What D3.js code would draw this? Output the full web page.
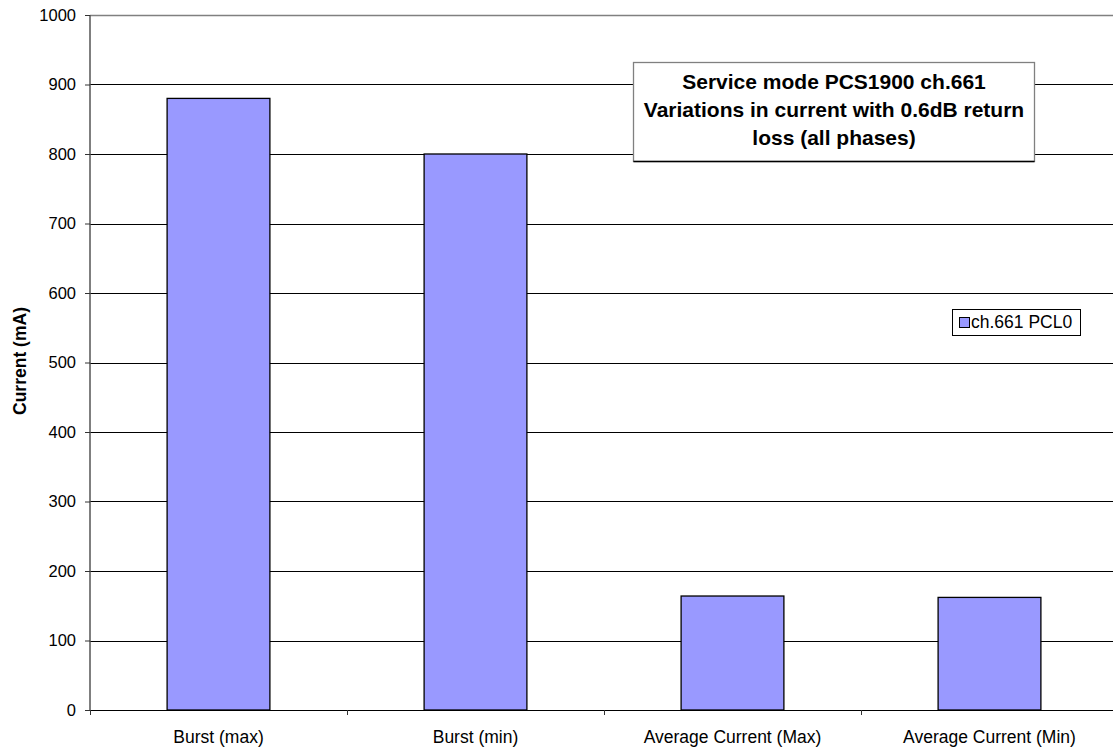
<!DOCTYPE html>
<html>
<head>
<meta charset="utf-8">
<script src="https://cdn.jsdelivr.net/npm/d3@7"></script>
<style>
  body { margin: 0; background: #fff; }
  text { font-family: "Liberation Sans", Arial, sans-serif; }
</style>
</head>
<body>
<div id="chart"></div>
<script>
var categories = ["Burst (max)", "Burst (min)", "Average Current (Max)", "Average Current (Min)"];
var values = [880, 800, 164, 162];
var yTicks = [0, 100, 200, 300, 400, 500, 600, 700, 800, 900, 1000];
var seriesName = "ch.661 PCL0";
var titleLines = ["Service mode PCS1900 ch.661", "Variations in current with 0.6dB return", "loss (all phases)"];

var margin = {top: 15, right: 0, bottom: 39, left: 90};
var W = 1113, H = 749;
var width = 1028;
var height = H - margin.top - margin.bottom;

var svg = d3.select("#chart")
  .append("svg")
    .attr("width", W)
    .attr("height", H)
  .append("g")
    .attr("transform", "translate(" + margin.left + "," + margin.top + ")");

var x = d3.scaleBand()
  .domain(categories)
  .range([0, width])
  .paddingInner(0.6)
  .paddingOuter(0.3);

var y = d3.scaleLinear()
  .domain([0, 1000])
  .range([height, 0]);

// gridlines
svg.append("g")
  .selectAll("line")
  .data(yTicks.slice(1))
  .enter().append("line")
    .attr("x1", 0)
    .attr("x2", width)
    .attr("y1", function(d) { return Math.round(y(d)) + 0.5 })
    .attr("y2", function(d) { return Math.round(y(d)) + 0.5 })
    .attr("stroke", function(d) { return d == 1000 ? "#808080" : "#000" })
    .attr("stroke-width", function(d) { return d == 1000 ? 1.5 : 1 });

// bars
svg.append("g")
  .selectAll("rect")
  .data(values)
  .enter().append("rect")
    .attr("x", function(d, i) { return x(categories[i]) })
    .attr("y", function(d) { return y(d) })
    .attr("width", x.bandwidth())
    .attr("height", function(d) { return height - y(d) })
    .attr("fill", "#9999ff")
    .attr("stroke", "#000")
    .attr("stroke-width", 1.3);

// y axis
var yAxis = svg.append("g")
  .call(d3.axisLeft(y).tickValues(yTicks).tickSize(5).tickPadding(9).tickFormat(d3.format("d")));
yAxis.select(".domain").attr("stroke", "#555").attr("stroke-width", 1.5).attr("d", "M0," + height + "V0");
yAxis.selectAll(".tick line").attr("stroke", "#333");
yAxis.selectAll("text").attr("font-size", 16.5).attr("fill", "#000")
  .attr("font-family", "Liberation Sans, Arial, sans-serif");

// x axis
var xb = d3.scaleLinear().domain([0, 4]).range([0, width]);
svg.append("line")
  .attr("x1", 0).attr("x2", width)
  .attr("y1", height + 0.5).attr("y2", height + 0.5)
  .attr("stroke", "#000").attr("stroke-width", 1.2);
svg.append("g")
  .selectAll("line")
  .data([0, 1, 2, 3, 4])
  .enter().append("line")
    .attr("x1", function(d) { return Math.round(xb(d)) + 0.5 })
    .attr("x2", function(d) { return Math.round(xb(d)) + 0.5 })
    .attr("y1", height)
    .attr("y2", height + 5)
    .attr("stroke", "#333");
svg.append("g")
  .selectAll("text")
  .data(categories)
  .enter().append("text")
    .attr("x", function(d) { return x(d) + x.bandwidth() / 2 })
    .attr("y", height + 33)
    .attr("text-anchor", "middle")
    .attr("font-size", 17.5)
    .text(function(d) { return d });

// y label
svg.append("text")
  .attr("transform", "translate(" + (-64) + "," + (346) + ") rotate(-90)")
  .attr("text-anchor", "middle")
  .attr("font-size", 17.5)
  .attr("font-weight", "bold")
  .text("Current (mA)");

// title box
var tb = svg.append("g").attr("transform", "translate(" + (633 - margin.left) + "," + (62 - margin.top) + ")");
tb.append("rect")
  .attr("x", 0.5).attr("y", 0.5)
  .attr("width", 401).attr("height", 99)
  .attr("fill", "#fff")
  .attr("stroke", "#808080")
  .attr("stroke-width", 1.3);
tb.append("line").attr("x1", 0.5).attr("x2", 401.5).attr("y1", 99.5).attr("y2", 99.5)
  .attr("stroke", "#000").attr("stroke-width", 1.3);
tb.selectAll("text.t")
  .data(titleLines)
  .enter().append("text")
    .attr("class", "t")
    .attr("x", 201)
    .attr("y", function(d, i) { return 26.5 + i * 28 })
    .attr("text-anchor", "middle")
    .attr("font-size", 21)
    .attr("font-weight", "bold")
    .text(function(d) { return d });

// legend
var lg = svg.append("g").attr("transform", "translate(" + (952 - margin.left) + "," + (309 - margin.top) + ")");
lg.append("rect")
  .attr("x", 0.5).attr("y", 0.5)
  .attr("width", 128).attr("height", 26)
  .attr("fill", "#fff")
  .attr("stroke", "#000");
lg.append("rect")
  .attr("x", 7.5).attr("y", 8.5)
  .attr("width", 10).attr("height", 10)
  .attr("fill", "#9999ff")
  .attr("stroke", "#000");
lg.append("text")
  .attr("x", 19)
  .attr("y", 19)
  .attr("font-size", 17.5)
  .text(seriesName);
</script>
</body>
</html>
